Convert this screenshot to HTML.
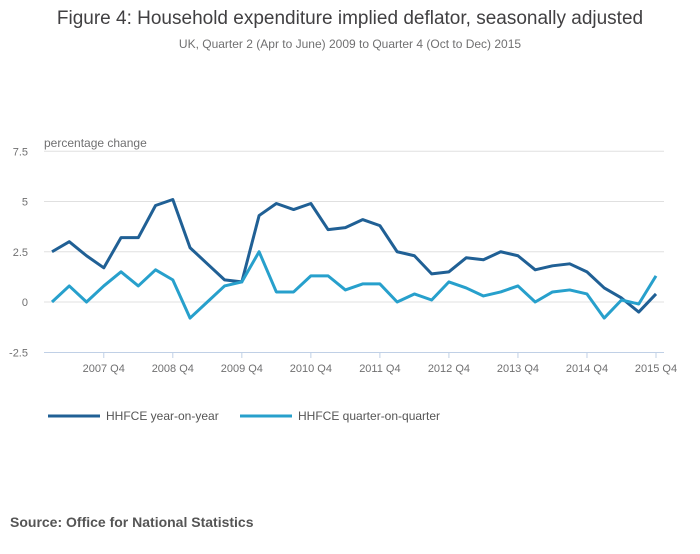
<!DOCTYPE html>
<html><head><meta charset="utf-8"><style>
body{margin:0;background:#fff;font-family:"Liberation Sans",sans-serif;}
svg text{font-family:"Liberation Sans",sans-serif;}
</style></head><body>
<svg width="700" height="549">
<text x="350" y="24" text-anchor="middle" font-size="19" fill="#414042">Figure 4: Household expenditure implied deflator, seasonally adjusted</text>
<text x="350" y="48" text-anchor="middle" font-size="12" fill="#707071">UK, Quarter 2 (Apr to June) 2009 to Quarter 4 (Oct to Dec) 2015</text>
<text x="44" y="147" font-size="12" fill="#707071">percentage change</text>
<g id="grid"></g>
<g id="xaxis"></g>
<g id="series"></g>
<g>
<g><line x1="48" y1="416" x2="100" y2="416" stroke="#206095" stroke-width="3"/><text x="106" y="420" font-size="12" fill="#555">HHFCE year-on-year</text></g>
<g><line x1="240" y1="416" x2="292" y2="416" stroke="#27a0cc" stroke-width="3"/><text x="298" y="420" font-size="12" fill="#555">HHFCE quarter-on-quarter</text></g>
</g>
<text x="10" y="527" font-size="14" font-weight="bold" fill="#555">Source: Office for National Statistics</text>
</svg>
<script>
const categories=[];for(let y=2007;y<=2015;y++)for(let q=1;q<=4;q++)categories.push(y+" Q"+q);
const yoy=[2.5,3.0,2.3,1.7,3.2,3.2,4.8,5.1,2.7,1.9,1.1,1.0,4.3,4.9,4.6,4.9,3.6,3.7,4.1,3.8,2.5,2.3,1.4,1.5,2.2,2.1,2.5,2.3,1.6,1.8,1.9,1.5,0.7,0.2,-0.5,0.4];
const qoq=[0,0.8,0,0.8,1.5,0.8,1.6,1.1,-0.8,0,0.8,1.0,2.5,0.5,0.5,1.3,1.3,0.6,0.9,0.9,0,0.4,0.1,1.0,0.7,0.3,0.5,0.8,0,0.5,0.6,0.4,-0.8,0.1,-0.1,1.3];
const yTicks=[7.5,5,2.5,0,-2.5];
const NS="http://www.w3.org/2000/svg";
const xS=i=>52+i*(604/(categories.length-1));
const yS=v=>302-v*20.1;
function mk(t,a,p){const e=document.createElementNS(NS,t);for(const k in a)e.setAttribute(k,a[k]);p.appendChild(e);return e;}
const grid=document.getElementById('grid');
yTicks.forEach(v=>{
 if(v>-2.5){const l=mk('line',{x1:44,x2:664,y1:yS(v),y2:yS(v),stroke:'#e0e0e0','stroke-width':1},grid);
 
 }
 const t=mk('text',{x:28,y:yS(v)+4,'text-anchor':'end','font-size':11,fill:'#707071'},grid);t.textContent=String(v);
 
 
});
const xa=document.getElementById('xaxis');
mk('line',{x1:44,x2:664,y1:352.5,y2:352.5,stroke:'#c0d0e6','stroke-width':1},xa);
categories.forEach((c,i)=>{if(c.endsWith('Q4')){
 mk('line',{x1:xS(i),x2:xS(i),y1:352,y2:358,stroke:'#c0d0e6'},xa);
 const t=mk('text',{x:xS(i),y:372,'text-anchor':'middle','font-size':11,fill:'#707071'},xa);t.textContent=c;
 
 
}});
const s=document.getElementById('series');
[[yoy,'#206095','line-yoy'],[qoq,'#27a0cc','line-qoq']].forEach(([d,col,n])=>{
 const p=mk('polyline',{points:d.map((v,i)=>xS(i)+','+yS(v)).join(' '),fill:'none',stroke:col,'stroke-width':3,'stroke-linejoin':'round'},s);
 
 
});
</script>
</body></html>
